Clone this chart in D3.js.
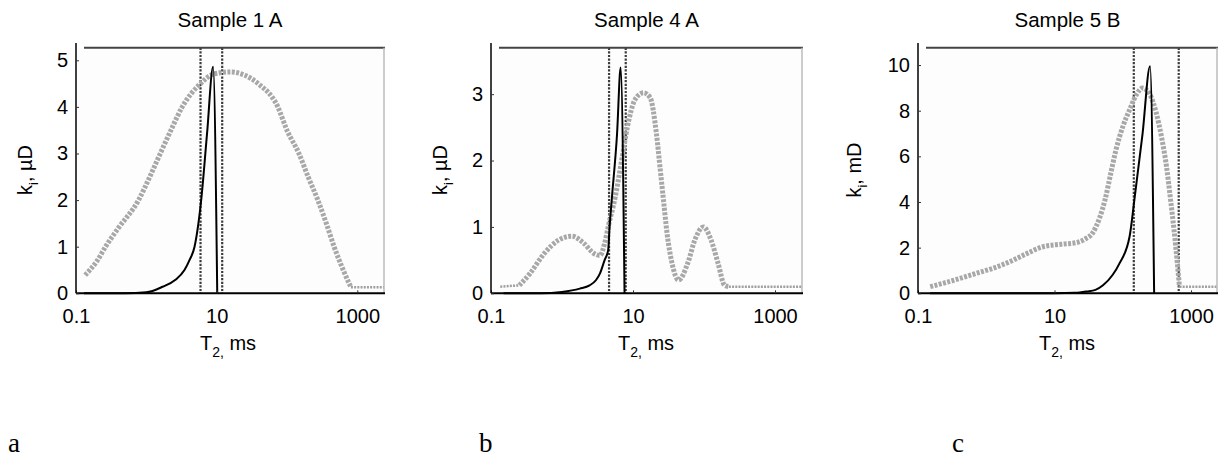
<!DOCTYPE html>
<html>
<head>
<meta charset="utf-8">
<script src="https://cdn.jsdelivr.net/npm/d3@7"></script>
<style>
  body { margin: 0; background: #fff; }
  svg text { font-family: "Liberation Sans", Arial, sans-serif; fill: #000; }
  .panelLetter { font-family: "Liberation Serif", "Times New Roman", serif; }
</style>
</head>
<body>
<svg id="chart" width="1219" height="457"></svg>
<script>
// ---------------- DATA ----------------
const titles = ["Sample 1 A", "Sample 4 A", "Sample 5 B"];
const yUnits = ["\u00b5D", "\u00b5D", "mD"];
const panelLetters = ["a", "b", "c"];
const xTickValues = [0.1, 10, 1000];
const xTickLabels = ["0.1", "10", "1000"];
const yTicks1 = [0, 1, 2, 3, 4, 5];
const yTicks2 = [0, 1, 2, 3];
const yTicks3 = [0, 2, 4, 6, 8, 10];
const yMax = [5.27, 3.7, 10.76];
const xDomain = [0.1, 2400];

// Panel 1 (Sample 1 A)
const gray1T2 = [0.135, 0.2, 0.263, 0.4, 0.776, 1.12, 1.58, 2.24, 3.24, 5.89, 8.91, 15.8, 25.1, 38.9, 74.1, 100, 148, 200, 275, 363, 468, 631, 813];
const gray1K  = [0.39, 0.7, 1.0, 1.4, 2.0, 2.5, 3.0, 3.5, 4.0, 4.5, 4.7, 4.75, 4.68, 4.5, 4.0, 3.5, 3.0, 2.5, 2.0, 1.5, 1.0, 0.5, 0.13];
const grayThin1T2 = [813, 2400];
const grayThin1K  = [0.13, 0.13];
const black1T2 = [0.13, 0.5, 1.0, 1.7, 2.6, 3.49, 4.11, 4.85, 6.03, 7.31, 8.91, 10.2];
const black1K  = [0, 0, 0.02, 0.14, 0.29, 0.5, 0.71, 1.0, 2.0, 3.43, 4.86, 0];
const cutoffs1 = [5.9, 12.0];

// Panel 2 (Sample 4 A)
const gray2T2 = [0.251, 0.355, 0.562, 0.891, 1.38, 2.0, 2.82, 3.43, 3.98, 4.47, 5.62, 6.92, 8.32, 10.7, 14.1, 17.4, 21.4, 24.0, 26.9, 30.2, 35.5, 43.7, 58.9, 74.1, 97.7, 126, 158, 195, 224];
const gray2K  = [0.12, 0.3, 0.6, 0.8, 0.86, 0.76, 0.6, 0.57, 0.75, 1.0, 1.45, 2.0, 2.5, 2.92, 3.02, 2.95, 2.4, 1.9, 1.4, 0.9, 0.45, 0.2, 0.45, 0.8, 1.0, 0.8, 0.45, 0.12, 0.1];
const grayThin2aT2 = [0.135, 0.251];
const grayThin2aK  = [0.1, 0.12];
const grayThin2bT2 = [224, 2400];
const grayThin2bK  = [0.1, 0.1];
const black2T2 = [0.15, 0.5, 1.0, 1.78, 2.45, 3.02, 3.43, 3.98, 4.47, 4.68, 5.01, 5.96, 6.7, 7.6];
const black2K  = [0, 0, 0.02, 0.07, 0.12, 0.2, 0.3, 0.5, 0.65, 1.0, 1.4, 2.4, 3.4, 0];
const cutoffs2 = [4.6, 7.9];

// Panel 3 (Sample 5 B)
const gray3T2 = [0.151, 0.316, 0.724, 1.26, 2.24, 3.98, 6.76, 12.6, 20.9, 28.2, 36.3, 45.7, 55.0, 66.1, 79.4, 100, 126, 158, 195, 251, 309, 372, 437, 501, 562, 631, 676];
const gray3K  = [0.29, 0.55, 0.88, 1.1, 1.39, 1.75, 2.04, 2.15, 2.22, 2.38, 2.65, 3.3, 4.1, 5.2, 6.28, 7.3, 8.04, 8.7, 8.99, 8.7, 7.9, 6.8, 5.55, 4.1, 2.8, 1.3, 0.29];
const grayThin3T2 = [676, 2400];
const grayThin3K  = [0.29, 0.29];
const black3T2 = [0.15, 10, 20, 29.5, 39.8, 51.3, 70.8, 89.1, 126, 148, 195, 251, 288];
const black3K  = [0, 0, 0.02, 0.08, 0.15, 0.35, 0.8, 1.3, 2.5, 4.1, 7.0, 9.95, 0];
const cutoffs3 = [145, 660];

// ---------------- LAYOUT ----------------
const zip = (a, b) => a.map((v, i) => [v, b[i]]);
const panels = [
  { x0: 76,  x1: 384,  yTicks: yTicks1, gray: zip(gray1T2, gray1K), thin: [zip(grayThin1T2, grayThin1K)], black: zip(black1T2, black1K), cut: cutoffs1, yLabelX: 25, xLabelX: 228, letterX: 8 },
  { x0: 491, x1: 802,  yTicks: yTicks2, gray: zip(gray2T2, gray2K), thin: [zip(grayThin2aT2, grayThin2aK), zip(grayThin2bT2, grayThin2bK)], black: zip(black2T2, black2K), cut: cutoffs2, yLabelX: 440, xLabelX: 646, letterX: 479 },
  { x0: 918, x1: 1217, yTicks: yTicks3, gray: zip(gray3T2, gray3K), thin: [zip(grayThin3T2, grayThin3K)], black: zip(black3T2, black3K), cut: cutoffs3, yLabelX: 854, xLabelX: 1067, letterX: 952 }
];
const yTop = 47.7, yBot = 293.3;

const svg = d3.select("#chart");

panels.forEach((p, i) => {
  const x = d3.scaleLog().domain(xDomain).range([p.x0, p.x1]);
  const y = d3.scaleLinear().domain([0, yMax[i]]).range([yBot, yTop]);
  const g = svg.append("g");

  g.append("rect").attr("x", p.x0).attr("y", yTop).attr("width", p.x1 - p.x0).attr("height", yBot - yTop).attr("fill", "#fdfdfd");

  const line = d3.line().x(d => x(d[0])).y(d => y(d[1])).curve(d3.curveMonotoneX);
  const lineLin = d3.line().x(d => x(d[0])).y(d => y(d[1]));

  // cutoff dotted verticals
  p.cut.forEach(c => {
    g.append("line").attr("x1", x(c)).attr("x2", x(c)).attr("y1", yTop).attr("y2", yBot)
      .attr("stroke", "#3c3c3c").attr("stroke-width", 2.2).attr("stroke-dasharray", "2.2,1.4");
  });

  // gray dotted series
  g.append("path").datum(p.gray).attr("d", line).attr("fill", "none")
    .attr("stroke", "#a8a8a8").attr("stroke-width", 5).attr("stroke-dasharray", "3,1.4");
  p.thin.forEach(t => {
    g.append("path").datum(t).attr("d", lineLin).attr("fill", "none")
      .attr("stroke", "#a0a0a0").attr("stroke-width", 2.5).attr("stroke-dasharray", "2,1.2");
  });

  // black series
  g.append("path").datum(p.black).attr("d", line).attr("fill", "none")
    .attr("stroke", "#000").attr("stroke-width", 2).attr("stroke-linejoin", "miter");

  // frame: top (dark) and right (light)
  g.append("line").attr("x1", p.x0 + 8).attr("x2", p.x1 + 1).attr("y1", yTop).attr("y2", yTop)
    .attr("stroke", "#444").attr("stroke-width", 2);
  g.append("line").attr("x1", p.x1).attr("x2", p.x1).attr("y1", yTop).attr("y2", yBot)
    .attr("stroke", "#bbb").attr("stroke-width", 1.5);

  // x axis
  const xAxis = d3.axisBottom(x).tickValues(xTickValues).tickFormat((d, k) => xTickLabels[k]).tickSizeInner(-3).tickSizeOuter(0).tickPadding(16);
  const gx = g.append("g").attr("transform", `translate(0,${yBot})`).call(xAxis);
  gx.select(".domain").attr("stroke", "#000").attr("stroke-width", 2).attr("d", `M${p.x0},0H${p.x1 + 1}`);
  gx.selectAll(".tick line").attr("stroke", "#333").attr("stroke-width", 1);
  gx.selectAll(".tick text").attr("font-size", 20).attr("font-family", "Liberation Sans, Arial, sans-serif").attr("fill", "#000");

  // y axis
  const yAxis = d3.axisLeft(y).tickValues(p.yTicks).tickFormat(d3.format("d")).tickSizeInner(-3).tickSizeOuter(0).tickPadding(8);
  const gy = g.append("g").attr("transform", `translate(${p.x0},0)`).call(yAxis);
  gy.select(".domain").attr("stroke", "#000").attr("stroke-width", 1.5).attr("d", `M0,43V${yBot}`);
  gy.selectAll(".tick line").attr("stroke", "#333").attr("stroke-width", 1);
  gy.selectAll(".tick text").attr("font-size", 20).attr("font-family", "Liberation Sans, Arial, sans-serif").attr("fill", "#000");

  // title
  g.append("text").attr("x", (p.x0 + p.x1) / 2).attr("y", 27).attr("text-anchor", "middle")
    .attr("font-size", 20.5).text(titles[i]);

  // y label
  const yl = g.append("text").attr("transform", `translate(${p.yLabelX + 7},170) rotate(-90)`)
    .attr("text-anchor", "middle").attr("font-size", 20);
  yl.append("tspan").text("k");
  yl.append("tspan").attr("dy", 6).attr("font-size", 13).text("i");
  yl.append("tspan").attr("dy", -6).text(", " + yUnits[i]);

  // x label
  const xl = g.append("text").attr("x", p.xLabelX).attr("y", 350).attr("text-anchor", "middle").attr("font-size", 20);
  xl.append("tspan").text("T");
  xl.append("tspan").attr("dy", 7).attr("font-size", 14).text("2,");
  xl.append("tspan").attr("dy", -7).text(" ms");

  // panel letter
  svg.append("text").attr("class", "panelLetter").attr("x", p.letterX).attr("y", 452)
    .attr("font-size", 27).text(panelLetters[i]);
});
</script>
</body>
</html>
